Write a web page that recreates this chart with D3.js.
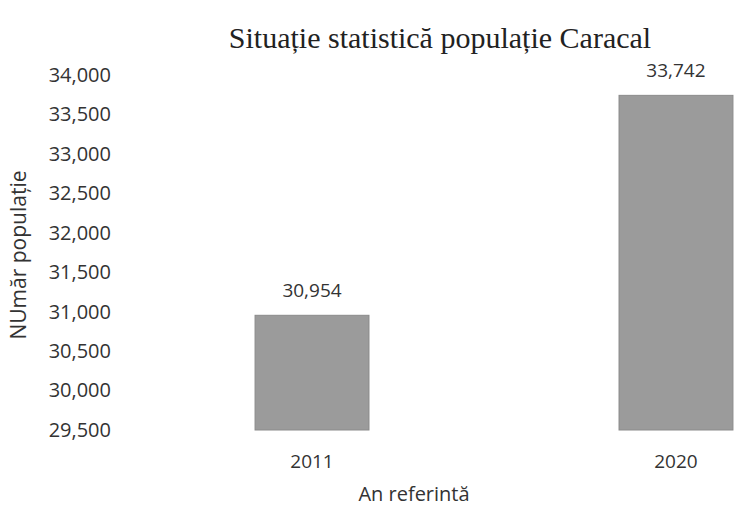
<!DOCTYPE html>
<html>
<head>
<meta charset="utf-8">
<script src="https://cdn.jsdelivr.net/npm/d3@7"></script>
<style>
  body { margin: 0; background: #fff; }
  text { fill: #333; }
</style>
</head>
<body>
<svg id="chart" width="736" height="510"></svg>
<script>
// date: ani si populatie
var years = ["2011", "2020"];
var population = [30954, 33742];
var yTicks = [29500, 30000, 30500, 31000, 31500, 32000, 32500, 33000, 33500, 34000];

var svg = d3.select("#chart");

// scala y: 29,500 jos, 34,000 sus
var y = d3.scaleLinear().domain([29500, 34000]).range([430, 75]);
// scala x: graficul original e taiat in dreapta
var x = d3.scaleBand().domain(years).range([5, 983]).padding(0.687);

var fmt = d3.format(",");

// titlu
svg.append("text")
    .attr("x", 440)
    .attr("y", 48)
    .attr("text-anchor", "middle")
    .style("font-family", "'Liberation Serif', 'Times New Roman', serif")
    .style("font-size", "30px")
    .style("fill", "#222")
    .text("Situație statistică populație Caracal");

// axa y fara linie, doar etichete
var yAxis = svg.append("g")
    .attr("transform", "translate(111,0)")
    .call(d3.axisLeft(y).tickValues(yTicks).tickFormat(fmt).tickSize(0).tickPadding(0));
yAxis.select(".domain").remove();
yAxis.selectAll("text")
    .style("font-family", "'Open Sans', sans-serif")
    .style("font-size", "20px")
    .style("fill", "#333");

// axa x
var xAxis = svg.append("g")
    .attr("transform", "translate(0,454)")
    .call(d3.axisBottom(x).tickSize(0).tickPadding(0));
xAxis.select(".domain").remove();
xAxis.selectAll("text")
    .attr("dy", "0.71em")
    .style("font-family", "'Open Sans', sans-serif")
    .style("font-size", "19px")
    .style("fill", "#333");

// bare
svg.selectAll(".bar")
    .data(population)
    .enter().append("rect")
    .attr("class", "bar")
    .attr("x", function (d, i) { return x(years[i]); })
    .attr("width", x.bandwidth())
    .attr("y", function (d) { return y(d); })
    .attr("height", function (d) { return y(29500) - y(d); })
    .style("fill", "#9b9b9b")
    .style("stroke", "#8a8a8a")
    .style("stroke-width", 1);

// etichete valori
svg.selectAll(".val")
    .data(population)
    .enter().append("text")
    .attr("class", "val")
    .attr("x", function (d, i) { return x(years[i]) + x.bandwidth() / 2; })
    .attr("y", function (d) { return y(d) - 18; })
    .attr("text-anchor", "middle")
    .style("font-family", "'Open Sans', sans-serif")
    .style("font-size", "19px")
    .text(function (d) { return fmt(d); });

// titluri axe
svg.append("text")
    .attr("transform", "translate(26,255) rotate(-90)")
    .attr("text-anchor", "middle")
    .style("font-family", "'Open Sans', sans-serif")
    .style("font-size", "21px")
    .text("NUmăr populație");

svg.append("text")
    .attr("x", 414)
    .attr("y", 501)
    .attr("text-anchor", "middle")
    .style("font-family", "'Open Sans', sans-serif")
    .style("font-size", "20px")
    .text("An referintă");
</script>
</body>
</html>
